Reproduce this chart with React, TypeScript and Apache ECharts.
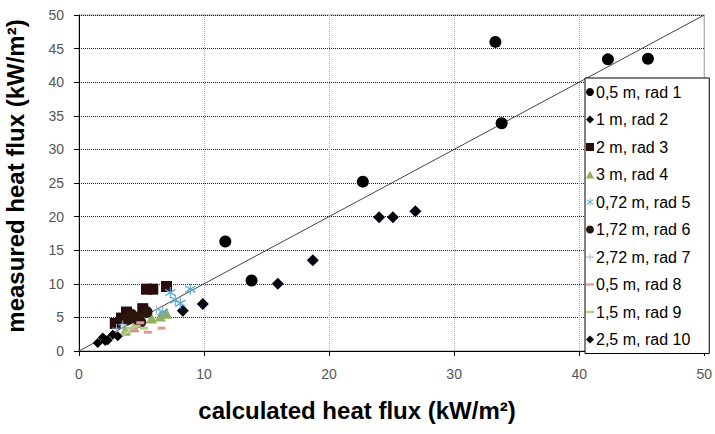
import React, { useEffect, useRef } from "react";
import * as echarts from "echarts";

const xTicks = [0, 10, 20, 30, 40, 50];
const yTicks = [0, 5, 10, 15, 20, 25, 30, 35, 40, 45, 50];

const xTitle = "calculated heat flux (kW/m²)";
const yTitle = "measured heat flux (kW/m²)";

const seriesNames = [
  "0,5 m, rad 1",
  "1 m, rad 2",
  "2 m, rad 3",
  "3 m, rad 4",
  "0,72 m, rad 5",
  "1,72 m, rad 6",
  "2,72 m, rad 7",
  "0,5 m, rad 8",
  "1,5 m, rad 9",
  "2,5 m, rad 10",
];

const rad1 = [[33.3, 46.0], [42.3, 43.4], [45.5, 43.5], [33.8, 33.9], [22.7, 25.2], [11.7, 16.3], [13.8, 10.5]];
const rad2 = [[9.9, 7.0], [15.9, 10.0], [18.7, 13.5], [24.0, 19.9], [25.1, 19.9], [26.9, 20.8], [8.3, 6.0]];
const rad3 = [[5.4, 9.2], [5.9, 9.2], [7.0, 9.6], [3.8, 5.8], [2.9, 4.1], [3.4, 4.9], [5.1, 6.3]];
const rad4 = [[6.5, 5.2], [7.0, 5.6], [5.8, 4.9], [3.7, 3.1], [4.4, 3.6]];
const rad5 = [[8.9, 9.2], [7.3, 8.7], [7.7, 7.6], [8.1, 7.1], [6.7, 5.8]];
const rad6 = [[4.2, 5.4], [5.4, 5.8], [4.9, 4.3], [4.6, 4.9], [3.9, 4.7]];
const rad7 = [[3.0, 3.4], [3.5, 3.9], [6.2, 6.1]];
const rad8 = [[6.6, 3.4], [5.5, 2.8], [4.9, 4.2], [4.4, 3.2]];
const rad9 = [[3.9, 2.8], [3.4, 2.4], [4.1, 3.4], [4.6, 3.7], [5.2, 3.4]];
const rad10 = [[1.5, 1.2], [1.9, 2.0], [2.3, 1.6], [2.7, 2.4], [2.1, 1.5], [3.1, 2.2]];

const identityLine = [[0, 0], [50, 50]];

const starPath =
  "path://M4.55,0 L5.45,0 L5.45,10 L4.55,10 Z M0.6,2.6 L1.2,1.6 L9.4,7.4 L8.8,8.4 Z M8.8,1.6 L9.4,2.6 L1.2,8.4 L0.6,7.4 Z";
const plusPath =
  "path://M4.5,0 L5.5,0 L5.5,4.5 L10,4.5 L10,5.5 L5.5,5.5 L5.5,10 L4.5,10 L4.5,5.5 L0,5.5 L0,4.5 L4.5,4.5 Z";
const dashPath = "path://M1,4 L9,4 L9,6.2 L1,6.2 Z";

export default function App() {
  const ref = useRef<HTMLDivElement>(null);
  useEffect(() => {
    if (!ref.current) return;
    const chart = echarts.init(ref.current, null, { renderer: "svg" });
    const font = "'Liberation Sans', Arial, sans-serif";
    const datasets = [rad1, rad2, rad3, rad4, rad5, rad6, rad7, rad8, rad9, rad10];
    const styles: any[] = [
      { symbol: "circle", size: 12, color: "#000000" },
      { symbol: "diamond", size: 12, color: "#050510" },
      { symbol: "rect", size: 11, color: "#2a0c0c" },
      { symbol: "triangle", size: 11, color: "#8fae5e" },
      { symbol: starPath, size: 11, color: "#5fa8cc" },
      { symbol: "circle", size: 12, color: "#2b160c" },
      { symbol: plusPath, size: 9, color: "#9db7d6" },
      { symbol: "rect", size: [8, 3], color: "#d99a9a" },
      { symbol: "rect", size: [8, 3], color: "#b9cb8e" },
      { symbol: "diamond", size: 10, color: "#000000" },
    ];
    const legendIcons = [
      "circle", "diamond", "rect", "triangle", starPath, "circle", plusPath, dashPath, dashPath, "diamond",
    ];
    const series: any[] = datasets.map((d, i) => ({
      name: seriesNames[i],
      type: "scatter",
      data: d,
      symbol: styles[i].symbol,
      symbolSize: styles[i].size,
      itemStyle: { color: styles[i].color, opacity: 1 },
      z: 3,
    }));
    series.push({
      name: "y=x",
      type: "line",
      data: identityLine,
      showSymbol: false,
      symbol: "none",
      lineStyle: { color: "#444", width: 1 },
      z: 2,
    });
    chart.setOption({
      animation: false,
      backgroundColor: "#fff",
      grid: {
        left: 79,
        right: 10,
        top: 15,
        bottom: 83,
        show: true,
        borderColor: "#999",
        borderWidth: 1,
      },
      legend: {
        data: seriesNames.map((n, i) => ({ name: n, icon: legendIcons[i] })),
        orient: "vertical",
        left: 585,
        top: 78,
        itemWidth: 8,
        itemHeight: 8,
        itemGap: 11.5,
        itemStyle: { borderWidth: 0 },
        padding: [6, 19, 6, 1],
        backgroundColor: "#fff",
        borderColor: "#000",
        borderWidth: 1,
        textStyle: { fontFamily: font, fontSize: 16, color: "#000", padding: [0, 0, 0, -3] },
        selectedMode: false,
        z: 10,
      },
      graphic: [
        {
          type: "text",
          x: 357,
          y: 410,
          style: {
            text: xTitle,
            font: "bold 24px 'Liberation Sans', Arial, sans-serif",
            fill: "#000",
            textAlign: "center",
            textVerticalAlign: "middle",
          },
        },
        {
          type: "text",
          x: 15,
          y: 176,
          rotation: Math.PI / 2,
          style: {
            text: yTitle,
            font: "bold 24px 'Liberation Sans', Arial, sans-serif",
            fill: "#000",
            textAlign: "center",
            textVerticalAlign: "middle",
          },
        },
      ],
      xAxis: {
        type: "value",
        min: 0,
        max: 50,
        interval: 10,
        axisLine: { show: true, lineStyle: { color: "#000", width: 1 } },
        axisTick: { show: true, inside: false, length: 5, lineStyle: { color: "#000" } },
        axisLabel: { fontFamily: font, fontSize: 14, color: "#555", margin: 16 },
        splitLine: { show: true, lineStyle: { type: "dotted", color: "#aaa", width: 1 } },
      },
      yAxis: {
        type: "value",
        min: 0,
        max: 50,
        interval: 5,
        axisLine: { show: true, lineStyle: { color: "#000", width: 1 } },
        axisTick: { show: true, inside: false, length: 5, lineStyle: { color: "#000" } },
        axisLabel: { fontFamily: font, fontSize: 14, color: "#555", margin: 15 },
        splitLine: { show: true, lineStyle: { type: "dotted", color: "#222", width: 1 } },
      },
      series,
    });
    return () => chart.dispose();
  }, []);
  return <div ref={ref} style={{ width: 715, height: 434, position: "absolute", left: 0, top: 0 }} />;
}

export { xTicks, yTicks };
